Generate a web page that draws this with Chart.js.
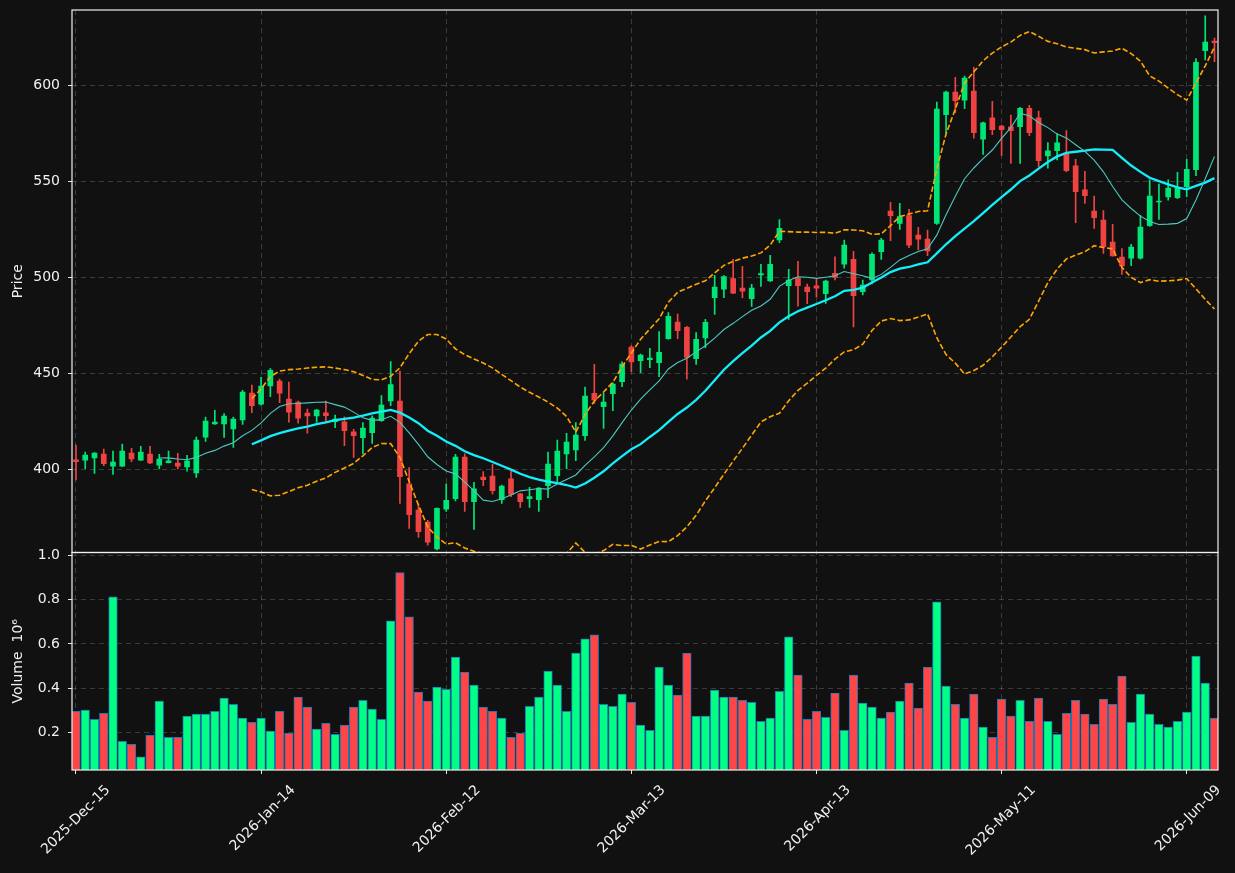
<!DOCTYPE html>
<html><head><meta charset="utf-8">
<script src="https://cdn.jsdelivr.net/npm/chart.js@4.4.1/dist/chart.umd.min.js"></script>
<style>html,body{margin:0;padding:0;background:#111111;}canvas{display:block;}</style>
</head><body>
<canvas id="c" width="1235" height="873"></canvas>
<script>
// ---- data ----
const dateTickIndex = [0, 20, 40, 60, 80, 100, 120];
const dateTickLabels = ['2025-Dec-15','2026-Jan-14','2026-Feb-12','2026-Mar-13','2026-Apr-13','2026-May-11','2026-Jun-09'];
const priceTicks = [400, 450, 500, 550, 600];
const volumeTicks = [0.2, 0.4, 0.6, 0.8, 1.0];

const opens = [405.0,404.8,405.9,408.0,401.7,401.7,408.5,404.8,408.0,402.2,403.5,403.3,401.2,398.1,416.8,423.6,423.6,421.0,425.7,439.7,
434.0,443.4,446.0,436.6,435.0,429.3,427.8,429.4,424.8,424.8,419.6,416.5,419.1,425.3,435.6,435.6,392.4,378.8,372.6,358.5,
379.2,384.7,406.4,383.2,396.0,396.5,384.2,395.0,387.2,384.7,384.2,391.5,396.7,408.0,410.1,417.5,439.6,432.6,439.4,445.6,
463.7,456.6,457.1,455.5,468.0,476.7,473.9,457.6,468.5,489.4,493.8,499.4,494.4,488.9,501.3,498.1,519.5,495.6,499.6,494.9,
495.5,491.5,502.1,506.9,509.4,492.5,498.6,513.4,534.5,528.1,532.1,522.0,519.9,528.1,584.7,596.5,592.3,597.0,572.0,583.0,
578.8,578.3,578.5,588.0,583.0,563.2,566.0,564.4,558.0,545.5,534.5,529.8,518.4,510.5,510.0,510.0,526.9,539.2,541.8,541.5,
547.2,556.1,618.0,623.0];
const highs = [412.7,409.0,408.7,410.6,409.5,413.2,410.9,412.0,412.0,407.8,409.5,408.3,407.3,416.8,427.2,430.7,429.1,427.2,441.1,443.9,
447.9,452.5,447.0,445.5,435.5,431.4,431.2,435.6,428.3,427.4,420.8,424.3,427.9,438.4,456.1,451.2,400.9,381.9,373.5,380.0,
392.5,407.8,408.1,393.2,398.8,402.6,391.8,399.1,387.5,390.6,390.5,409.0,415.3,418.7,424.3,442.8,454.7,439.6,445.0,456.0,
464.5,460.0,463.0,471.8,481.7,480.9,474.5,471.2,478.1,501.0,500.9,509.4,505.7,496.3,506.7,511.4,530.0,504.1,508.3,496.5,
499.3,498.6,510.7,519.4,513.5,498.6,512.8,520.3,539.0,538.5,535.4,526.0,524.6,591.3,597.0,604.1,604.8,609.3,580.9,591.6,
579.3,584.5,588.5,589.6,586.5,570.1,574.9,576.4,561.5,555.2,542.3,534.8,527.6,514.9,517.2,532.3,550.7,548.6,550.7,554.7,
561.5,613.9,636.1,624.6];
const lows = [394.5,400.3,397.9,401.9,397.4,401.5,404.0,404.6,403.0,400.2,403.3,400.2,399.1,395.8,414.6,423.4,416.6,411.4,423.4,429.5,
433.4,437.8,434.7,424.6,424.1,418.9,424.6,424.8,421.7,412.3,406.2,408.0,413.5,425.0,433.1,382.3,369.3,364.6,360.5,358.0,
378.1,383.5,378.1,368.7,391.5,387.2,382.3,385.8,380.2,380.2,378.1,385.2,393.6,400.3,404.5,415.0,434.3,421.3,430.5,443.0,
450.9,450.3,452.9,448.2,467.8,468.0,446.9,454.7,463.3,480.7,489.4,491.5,489.4,484.8,495.3,497.8,518.0,478.1,485.0,486.3,
489.6,486.4,498.6,504.7,474.2,490.8,496.5,509.3,519.1,525.0,515.4,514.2,511.3,527.5,575.0,585.7,587.8,572.4,564.0,574.3,
563.3,559.3,559.3,573.8,557.6,556.8,561.1,555.0,528.5,538.5,525.5,512.5,511.0,501.5,506.1,509.5,526.5,530.2,540.2,541.0,
542.0,552.9,613.2,612.3];
const closes = [404.0,407.4,408.5,402.9,403.8,409.5,405.4,409.0,403.3,405.4,404.5,401.7,404.3,415.3,425.2,424.6,427.7,426.2,440.2,433.1,
443.4,451.5,439.7,429.8,426.7,427.8,430.9,427.9,426.2,420.1,417.5,421.5,426.7,433.5,444.1,396.2,376.4,367.5,362.1,379.7,
383.9,406.4,383.2,389.8,394.6,388.9,391.3,387.0,383.2,385.8,390.3,402.8,409.5,414.2,417.9,438.2,436.1,435.0,444.4,454.8,
456.0,459.5,458.0,460.9,479.7,472.2,458.3,467.7,476.5,494.9,500.4,491.8,492.8,494.4,502.0,506.7,525.5,498.6,495.6,492.5,
494.4,498.1,500.0,516.8,490.4,496.0,512.0,519.4,532.1,531.6,516.8,519.8,513.8,587.6,596.5,592.0,603.8,575.3,580.4,576.9,
576.9,576.4,588.0,575.3,560.8,565.8,570.0,555.5,544.6,542.5,531.0,515.9,511.2,505.9,515.8,526.2,542.3,539.7,546.5,546.5,
556.2,612.0,622.5,622.2];
// volume in units of 10^6
const volumes = [0.295,0.300,0.259,0.286,0.814,0.159,0.145,0.089,0.186,0.341,0.177,0.177,0.273,0.282,0.282,0.295,0.355,0.327,0.264,0.245,
0.264,0.205,0.295,0.195,0.359,0.314,0.214,0.241,0.191,0.232,0.314,0.345,0.305,0.259,0.705,0.923,0.723,0.382,0.341,0.405,
0.395,0.541,0.473,0.414,0.314,0.295,0.264,0.177,0.195,0.318,0.359,0.477,0.414,0.295,0.559,0.623,0.641,0.327,0.318,0.373,
0.336,0.232,0.209,0.495,0.414,0.368,0.559,0.273,0.273,0.391,0.359,0.359,0.345,0.336,0.250,0.264,0.386,0.632,0.459,0.259,
0.295,0.268,0.377,0.209,0.459,0.332,0.314,0.264,0.291,0.341,0.423,0.309,0.495,0.791,0.409,0.327,0.264,0.373,0.223,0.177,
0.350,0.273,0.345,0.250,0.355,0.250,0.191,0.286,0.345,0.282,0.236,0.350,0.327,0.455,0.245,0.373,0.282,0.236,0.223,0.250,
0.291,0.545,0.423,0.264];

// ---- indicators derived from the closes (as the original chart did) ----
function rollingMean(arr, w) {
  const out = [];
  for (let i = w - 1; i < arr.length; i++) {
    let s = 0; for (let k = i - w + 1; k <= i; k++) s += arr[k];
    out.push({x: i, y: s / w});
  }
  return out;
}
function rollingBand(arr, w, mult, sign) {
  const out = [];
  for (let i = w - 1; i < arr.length; i++) {
    let s = 0; for (let k = i - w + 1; k <= i; k++) s += arr[k];
    const m = s / w; let v = 0;
    for (let k = i - w + 1; k <= i; k++) v += (arr[k] - m) * (arr[k] - m);
    const sd = Math.sqrt(v / (w - 1));
    out.push({x: i, y: m + sign * mult * sd});
  }
  return out;
}

const UP = '#00e676', DOWN = '#ef4343';
const VUP = '#00ff84', VDOWN = '#ff4545';
const isUp = closes.map((c, i) => c >= opens[i]);
const wickData = highs.map((h, i) => ({x: i, y: [lows[i], h]}));
const bodyData = opens.map((o, i) => ({x: i, y: [Math.min(o, closes[i]), Math.max(o, closes[i])]}));
const volData = volumes.map((v, i) => ({x: i, y: v}));

// panel geometry (pixels) of the figure
const PANEL = { left: 72, right: 1218, top: 10, split: 552.5, bottom: 770 };

const panelPlugin = {
  id: 'panels',
  afterLayout(chart) {
    const x = chart.scales.x, y = chart.scales.y, yv = chart.scales.yv;
    x.left = PANEL.left; x.right = PANEL.right; x.width = PANEL.right - PANEL.left;
    y.top = PANEL.top; y.bottom = PANEL.split; y.height = PANEL.split - PANEL.top;
    yv.top = PANEL.split; yv.bottom = PANEL.bottom; yv.height = PANEL.bottom - PANEL.split;
    [y, yv].forEach(s => { s.right = PANEL.left; s.left = 0; s.width = PANEL.left; });
    x.top = PANEL.bottom; x.bottom = chart.height; x.height = chart.height - PANEL.bottom;
    Object.assign(chart.chartArea, { left: PANEL.left, right: PANEL.right, top: PANEL.top, bottom: PANEL.bottom,
      width: PANEL.right - PANEL.left, height: PANEL.bottom - PANEL.top });
    [x, y, yv].forEach(s => s.configure());
  },
  beforeDraw(chart) {
    const ctx = chart.ctx; ctx.save(); ctx.fillStyle = '#111111';
    ctx.fillRect(0, 0, chart.width, chart.height); ctx.restore();
  },
  afterDraw(chart) {
    const ctx = chart.ctx, x = chart.scales.x;
    ctx.save(); ctx.strokeStyle = '#f0f0f0'; ctx.lineWidth = 1.2;
    ['y', 'yv'].forEach(id => {
      const s = chart.scales[id];
      ctx.strokeRect(x.left, s.top, x.right - x.left, s.bottom - s.top);
    });
    ctx.restore();
  }
};

const gridCommon = { color: 'rgba(110,110,110,0.45)', lineWidth: 1, tickColor: '#e8e8e8', tickLength: 4, tickWidth: 1, tickBorderDash: [] };
const FONT = { family: 'DejaVu Sans', size: 14 };
const TXT = '#f0f0f0';

new Chart(document.getElementById('c'), {
  type: 'bar',
  data: {
    datasets: [
      { type: 'line', label: 'MA10', data: rollingMean(closes, 10), yAxisID: 'y', borderColor: '#4cc9c0', borderWidth: 1.1, pointRadius: 0, order: 0 },
      { type: 'line', label: 'MA20', data: rollingMean(closes, 20), yAxisID: 'y', borderColor: '#14eefa', borderWidth: 2.3, pointRadius: 0, order: 0 },
      { type: 'line', label: 'BB up', data: rollingBand(closes, 20, 2, 1), yAxisID: 'y', borderColor: '#ffa500', borderWidth: 1.6, borderDash: [5.5, 2.5], pointRadius: 0, order: 0 },
      { type: 'line', label: 'BB lo', data: rollingBand(closes, 20, 2, -1), yAxisID: 'y', borderColor: '#ffa500', borderWidth: 1.6, borderDash: [5.5, 2.5], pointRadius: 0, order: 0 },
      { label: 'body', data: bodyData, yAxisID: 'y', backgroundColor: isUp.map(u => u ? UP : DOWN), barThickness: 5, minBarLength: 1, grouped: false, borderWidth: 0, order: 1 },
      { label: 'wick', data: wickData, yAxisID: 'y', backgroundColor: isUp.map(u => u ? UP : DOWN), barThickness: 1, grouped: false, borderWidth: 0, order: 2 },
      { label: 'volume', data: volData, yAxisID: 'yv', backgroundColor: isUp.map(u => u ? VUP : VDOWN), borderColor: '#1f77b4', borderWidth: 1, borderSkipped: false, barThickness: 8.6, grouped: false, order: 3 }
    ]
  },
  options: {
    responsive: false, animation: false, devicePixelRatio: 1,
    layout: { padding: { left: 0, right: 17, top: 10, bottom: 0 }, autoPadding: false },
    plugins: { legend: { display: false }, tooltip: { enabled: false } },
    scales: {
      x: {
        type: 'linear', min: -0.43, max: 123.38, offset: false,
        grid: Object.assign({}, gridCommon, { offset: false }),
        border: { display: false, dash: [5, 4] },
        afterBuildTicks: s => { s.ticks = dateTickIndex.map(v => ({value: v})); },
        afterFit: s => { s.height = 103; },
        ticks: { color: TXT, font: FONT, autoSkip: false, maxRotation: 45, minRotation: 45, padding: 8, labelOffset: 32,
          callback: v => { const k = dateTickIndex.indexOf(v); return k >= 0 ? dateTickLabels[k] : ''; } }
      },
      yv: {
        type: 'linear', position: 'left', stack: 'panels', stackWeight: 218, min: 0.029, max: 1.0145,
        grid: gridCommon, border: { display: false, dash: [5, 4] },
        afterBuildTicks: s => { s.ticks = volumeTicks.map(v => ({value: v})); },
        afterFit: s => { s.width = 72; },
        ticks: { color: TXT, font: FONT, padding: 8, callback: v => v.toFixed(1) },
        title: { display: true, text: 'Volume  10\u2076', color: TXT, font: FONT, padding: { top: 10, bottom: 0 } }
      },
      y: {
        type: 'linear', position: 'left', stack: 'panels', stackWeight: 542, min: 356.7, max: 639.2,
        grid: gridCommon, border: { display: false, dash: [5, 4] },
        afterBuildTicks: s => { s.ticks = priceTicks.map(v => ({value: v})); },
        afterFit: s => { s.width = 72; },
        ticks: { color: TXT, font: FONT, padding: 8, callback: v => String(v) },
        title: { display: true, text: 'Price', color: TXT, font: FONT, padding: { top: 10, bottom: 0 } }
      }
    }
  },
  plugins: [panelPlugin]
});
</script>
</body></html>
